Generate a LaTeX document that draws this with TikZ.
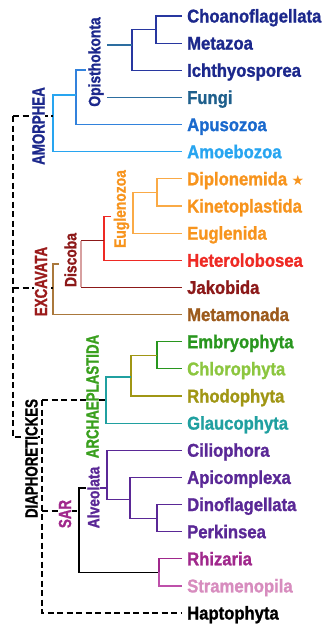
\documentclass[tikz,border=0pt]{standalone}
\usepackage{fontspec}
\setmainfont{Liberation Sans}
\newfontfamily\symfont{DejaVu Sans}
\newcommand\leafF{\fontsize{18.5}{20}\selectfont\bfseries\addfontfeatures{FakeStretch=0.9,FakeBold=1.2}}
\newcommand\labF{\fontsize{16.5}{18}\selectfont\bfseries\addfontfeatures{FakeStretch=0.84,FakeBold=1.2}}
\newcommand\capF{\fontsize{17.5}{19}\selectfont\bfseries\addfontfeatures{FakeStretch=0.76,FakeBold=1.2}}
\definecolor{cNavy}{RGB}{28,40,140}
\definecolor{cNavyL}{RGB}{40,55,160}
\definecolor{cFungi}{RGB}{30,95,140}
\definecolor{cFungiL}{RGB}{45,110,160}
\definecolor{cApu}{RGB}{26,105,205}
\definecolor{cApuL}{RGB}{50,130,220}
\definecolor{cAmo}{RGB}{40,165,240}
\definecolor{cOr}{RGB}{247,148,29}
\definecolor{cOrL}{RGB}{250,170,70}
\definecolor{cRed}{RGB}{238,42,36}
\definecolor{cJak}{RGB}{140,25,25}
\definecolor{cDiscV}{RGB}{215,160,160}
\definecolor{cExc}{RGB}{155,27,27}
\definecolor{cBrown}{RGB}{156,90,28}
\definecolor{cBrownL}{RGB}{170,120,60}
\definecolor{cGreen}{RGB}{40,150,30}
\definecolor{cArch}{RGB}{58,160,30}
\definecolor{cChl}{RGB}{140,198,63}
\definecolor{cOlive}{RGB}{160,150,20}
\definecolor{cTeal}{RGB}{32,160,160}
\definecolor{cPur}{RGB}{90,40,150}
\definecolor{cMag}{RGB}{160,40,140}
\definecolor{cMagL}{RGB}{190,80,170}
\definecolor{cPink}{RGB}{215,140,190}
\begin{document}
\begin{tikzpicture}[x=1pt,y=-1pt,
  leaf/.style={anchor=west, inner xsep=5pt, inner ysep=0pt, text height=13pt, text depth=0pt, font=\leafF},
  vlab/.style={rotate=90, inner sep=0.5pt, font=\labF},
  clab/.style={rotate=90, fill=white, inner sep=0.5pt, font=\capF},
  br/.style={line width=1.2pt},
  dsh/.style={line width=1.2pt, black, dash pattern=on 6pt off 3.5pt}]
\useasboundingbox (0,0) rectangle (322,627);

% ---------- leaves ----------
\node[leaf, text=cNavy]  (choano) at (182,16)    {Choanoflagellata};
\node[leaf, text=cNavy]  (meta)   at (182,43.1)  {Metazoa};
\node[leaf, text=cNavy]  (ichth)  at (182,70.3)  {Ichthyosporea};
\node[leaf, text=cFungi] (fungi)  at (182,97.4)  {Fungi};
\node[leaf, text=cApu]   (apuso)  at (182,124.6) {Apusozoa};
\node[leaf, text=cAmo]   (amoebo) at (182,151.7) {Amoebozoa};
\node[leaf, text=cOr]    (diplo)  at (182,178.8) {Diplonemida {\symfont\fontsize{14}{16}\selectfont ★}};
\node[leaf, text=cOr]    (kineto) at (182,206)   {Kinetoplastida};
\node[leaf, text=cOr]    (euglen) at (182,233.1) {Euglenida};
\node[leaf, text=cRed]   (hetero) at (182,260.3) {Heterolobosea};
\node[leaf, text=cJak]   (jakob)  at (182,287.4) {Jakobida};
\node[leaf, text=cBrown] (metam)  at (182,314.5) {Metamonada};
\node[leaf, text=cGreen] (embryo) at (182,341.7) {Embryophyta};
\node[leaf, text=cChl]   (chloro) at (182,368.8) {Chlorophyta};
\node[leaf, text=cOlive] (rhodo)  at (182,396)   {Rhodophyta};
\node[leaf, text=cTeal]  (glauco) at (182,423.1) {Glaucophyta};
\node[leaf, text=cPur]   (cilio)  at (182,450.2) {Ciliophora};
\node[leaf, text=cPur]   (apicom) at (182,477.4) {Apicomplexa};
\node[leaf, text=cPur]   (dino)   at (182,504.5) {Dinoflagellata};
\node[leaf, text=cPur]   (perk)   at (182,531.7) {Perkinsea};
\node[leaf, text=cMag]   (rhiz)   at (182,558.8) {Rhizaria};
\node[leaf, text=cPink]  (stram)  at (182,585.9) {Stramenopila};
\node[leaf, text=black]  (hapto)  at (182,613)   {Haptophyta};

% ---------- Amorphea ----------
\coordinate (cm) at (156,29.6);
\coordinate (cmi) at (132,45);
\draw[br,cNavyL] (choano.west) -| (cm) |- (meta.west);
\draw[br,cNavyL] (cm) -| (cmi) |- (ichth.west);
\coordinate (opR1) at (107,45);
\coordinate (opR2) at (107,97.4);
\draw[br,cFungiL] (opR1) -- (cmi);
\draw[br,cFungiL] (opR2) -- (fungi.west);
\node[vlab, text=cNavy] (opis) at (96,62) {Opisthokonta};
\coordinate (opL) at (86,70);
\coordinate (apN) at (76,70);
\coordinate (apM) at (76,95);
\draw[br,cApuL] (opL) -- (apN) |- (apuso.west);
\coordinate (amN) at (53,95);
\draw[br,cAmo] (apM) -- (amN) |- (amoebo.west);
\coordinate (rootTop) at (13,116);
\coordinate (amJ) at (53,116);
\draw[dsh] (rootTop) -- (amJ);
\node[clab, text=cNavy] (amor) at (38.5,126) {AMORPHEA};

% ---------- Excavata ----------
\coordinate (dk) at (157,192.4);
\coordinate (euV) at (133,214);
\draw[br,cOrL] (diplo.west) -| (dk) |- (kineto.west);
\draw[br,cOrL] (dk) -| (euV) |- (euglen.west);
\node[vlab, text=cOr] (eugz) at (121.5,209) {Euglenozoa};
\coordinate (eugL) at (111,216.5);
\coordinate (hetN) at (104,216.5);
\draw[br,cRed] (eugL) -- (hetN) |- (hetero.west);
\coordinate (hetM) at (104,240.5);
\coordinate (discR) at (81,240.5);
\coordinate (jakC) at (81,287.4);
\draw[br,cJak] (discR) -- (hetM);
\draw[br,cDiscV] (discR) -- (jakC);
\draw[br,cJak] (jakC) -- (jakob.west);
\node[vlab, text=cJak] (disc) at (70.5,260) {Discoba};
\coordinate (discL) at (59,264);
\coordinate (exN) at (53,264);
\draw[br,cBrownL] (discL) -- (exN) |- (metam.west);
\coordinate (rootEx) at (13,288);
\coordinate (exJ) at (53,288);
\draw[dsh] (rootEx) -- (exJ);
\node[clab, text=cExc] (exc) at (41,281.5) {EXCAVATA};

% ---------- Archaeplastida ----------
\coordinate (ec) at (157,355.2);
\coordinate (rhN) at (131,377);
\coordinate (glN) at (106,400);
\draw[br,cGreen] (embryo.west) -| (ec) |- (chloro.west);
\draw[br,cOlive] (ec) -| (rhN) |- (rhodo.west);
\draw[br,cTeal] (rhN) -| (glN) |- (glauco.west);
\coordinate (diaA) at (42,400);
\draw[dsh] (diaA) -- (glN);
\node[clab, text=cArch] (arch) at (92.5,396.5) {ARCHAEPLASTIDA};

% ---------- SAR ----------
\coordinate (dp) at (157,518.1);
\coordinate (apV) at (130,499.5);
\coordinate (alN) at (107,488);
\draw[br,cPur] (dino.west) -| (dp) |- (perk.west);
\draw[br,cPur] (dp) -| (apV) |- (apicom.west);
\draw[br,cPur] (apV) -| (alN) |- (cilio.west);
\coordinate (alvR) at (100,488);
\draw[br,cPur] (alvR) -- (alN);
\node[vlab, text=cPur] (alv) at (93.5,497.5) {Alveolata};
\coordinate (alvL) at (86,488);
\coordinate (sarN) at (79,488);
\coordinate (rsN) at (159,572.4);
\draw[br,black] (alvL) -- (sarN) |- (rsN);
\draw[br,cMag] (rhiz.west) -| (rsN);
\draw[br,cMagL] (rsN) |- (stram.west);
\coordinate (diaS) at (42,511);
\coordinate (sarJ) at (79,511);
\draw[dsh] (diaS) -- (sarJ);
\node[clab, text=cMag] (sar) at (65,514) {SAR};

% ---------- Diaphoretickes and root ----------
\draw[dsh] (diaA) |- (hapto.west);
\coordinate (rootBot) at (13,437);
\coordinate (diaJ) at (42,437);
\draw[dsh] (rootTop) -- (rootBot) -- (diaJ);
\node[clab, text=black] (diaph) at (31.5,458.5) {DIAPHORETICKES};
\end{tikzpicture}
\end{document}
